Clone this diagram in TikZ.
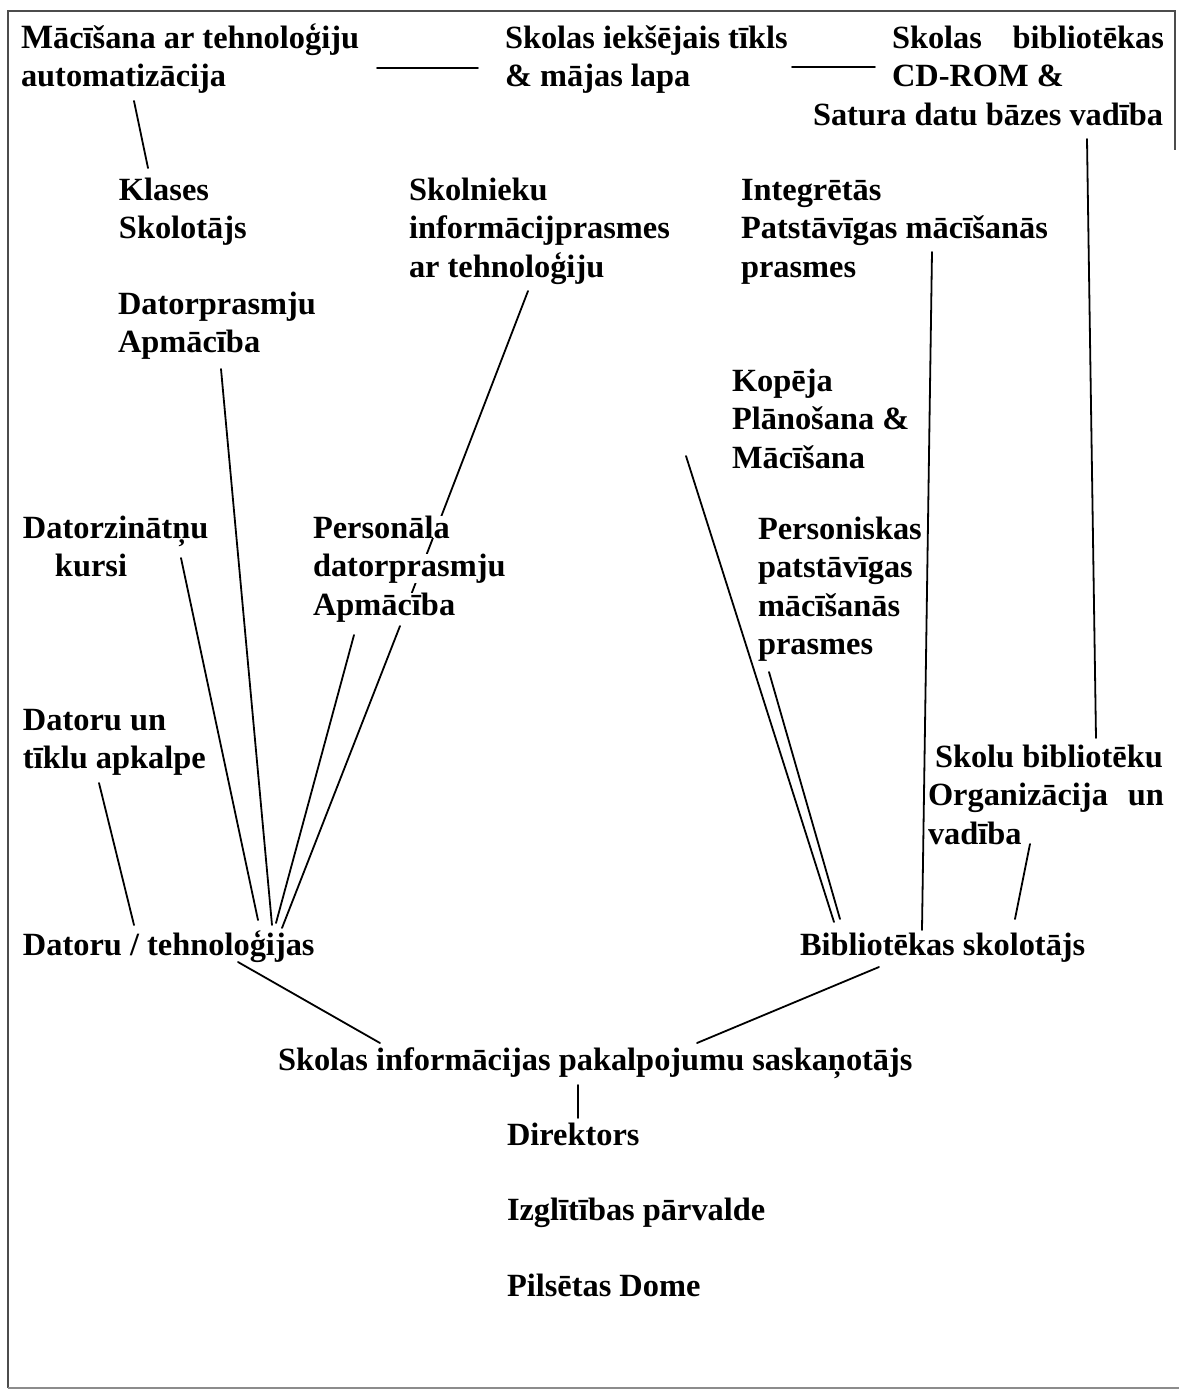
\documentclass[tikz,border=0pt]{standalone}
\usepackage{fontspec}
\setmainfont{Liberation Serif}
\usetikzlibrary{backgrounds}
\renewcommand\arraystretch{1}
\newcommand\wb[1]{{\setlength\fboxsep{0pt}\colorbox{white}{#1}}}
\begin{document}
\begin{tikzpicture}[x=0.5pt,y=-0.5pt,
  lbl/.style={anchor=base west, inner sep=0pt, outer sep=0pt,
    font=\bfseries\fontsize{16.2}{19.25}\selectfont},
  ln/.style={line width=0.9pt, black, line cap=round},
  frame/.style={line width=0.9pt, black!70}]
\useasboundingbox (0,0) rectangle (1179,1389);

% frame
\draw[frame] (8,1388) -- (8,11) -- (1175,11) -- (1175,150);
\draw[frame, black!45] (8,1388) -- (1179,1388);

% nodes
\node[lbl] (mac) at (21,48) {\begin{tabular}[t]{@{}l@{}}{\fontsize{17}{19.25}\selectfont M}ācīšana ar tehnoloģiju\\automatizācija\end{tabular}};
\node[lbl] (ikt) at (505,48) {\begin{tabular}[t]{@{}l@{}}Skolas iekšējais tīkls\\\& mājas lapa\end{tabular}};
\node[lbl] (cd) at (813,48) {\begin{tabular}[t]{@{}l@{}}\hspace{39.5pt}\makebox[136pt][s]{Skolas\hfill bibliotēkas}\\\hspace{39.5pt}CD-ROM \&\\Satura datu bāzes vadība\end{tabular}};
\node[lbl] (kl) at (119,200) {\begin{tabular}[t]{@{}l@{}}Klases\\Skolotājs\end{tabular}};
\node[lbl] (sk) at (409,200) {\begin{tabular}[t]{@{}l@{}}Skolnieku\\informācijprasmes\\ar tehnoloģiju\end{tabular}};
\node[lbl] (ip) at (741,200) {\begin{tabular}[t]{@{}l@{}}Integrētās\\Patstāvīgas mācīšanās\\prasmes\end{tabular}};
\node[lbl] (dpa) at (118,314) {\begin{tabular}[t]{@{}l@{}}Datorprasmju\\Apmācība\end{tabular}};
\node[lbl] (kop) at (732,391) {\begin{tabular}[t]{@{}l@{}}Kopēja\\Plānošana \&\\Mācīšana\end{tabular}};
\node[lbl] (dzk) at (23,538) {\begin{tabular}[t]{@{}l@{}}Datorzinātņu\\\hspace{16pt}kursi\end{tabular}};
\node[lbl] (pers) at (313,538) {\begin{tabular}[t]{@{}l@{}}\wb{Personāla}\\\wb{datorprasmju}\\\wb{Apmācība}\end{tabular}};
\node[lbl] (psp) at (758,539) {\begin{tabular}[t]{@{}l@{}}Personiskas\\patstāvīgas\\mācīšanās\\prasmes\end{tabular}};
\node[lbl] (dtk) at (23,730) {\begin{tabular}[t]{@{}l@{}}Datoru un\\tīklu apkalpe\end{tabular}};
\node[lbl] (sbo) at (928,767) {\begin{tabular}[t]{@{}l@{}}\hspace{3.5pt}Skolu bibliotēku\\\makebox[118pt][s]{Organizācija\hfill un}\\vadība\end{tabular}};
\node[lbl] (dt) at (23,955) {Datoru / tehnoloģijas};
\node[lbl] (bs) at (800,955) {Bibliotēkas skolotājs};
\node[lbl] (sips) at (278,1070) {Skolas informācijas pakalpojumu saskaņotājs};
\node[lbl] (dir) at (507,1145) {Direktors};
\node[lbl] (izp) at (507,1220) {Izglītības pārvalde};
\node[lbl] (pd) at (507,1296) {Pilsētas Dome};

% connector end points
\coordinate (mac-r) at (377,68);   \coordinate (ikt-l) at (478,68);
\coordinate (ikt-r) at (792,67);   \coordinate (cd-l) at (875,67);
\coordinate (mac-b) at (134,101);  \coordinate (kl-t) at (148,168);
\coordinate (cd-b) at (1087,139);  \coordinate (sbo-t) at (1096,738);
\coordinate (ip-b) at (932,252);   \coordinate (bs-t1) at (922,930);
\coordinate (kop-b) at (686,456);  \coordinate (bs-t2) at (834,922);
\coordinate (psp-b) at (769,672);  \coordinate (bs-t3) at (840,919);
\coordinate (sbo-b) at (1030,844); \coordinate (bs-t4) at (1015,919);
\coordinate (bs-b) at (879,967);   \coordinate (sips-r) at (697,1043);
\coordinate (dt-b) at (238,962);   \coordinate (sips-l) at (380,1043);
\coordinate (sips-b) at (578,1085); \coordinate (dir-t) at (578,1118);
\coordinate (dtk-b) at (99,783);   \coordinate (dt-t1) at (134,925);
\coordinate (dzk-b) at (181,558);  \coordinate (dt-t2) at (258,920);
\coordinate (dpa-b) at (221,369);  \coordinate (dt-t3) at (272,925);
\coordinate (pers-b1) at (354,635); \coordinate (dt-t4) at (276,923);
\coordinate (pers-b2) at (400,626); \coordinate (dt-t5) at (282,928);
\coordinate (sk-b) at (528,291);   \coordinate (pers-in) at (411,595);

\begin{scope}[on background layer]
\draw[ln] (mac-r) -- (ikt-l);
\draw[ln] (ikt-r) -- (cd-l);
\draw[ln] (mac-b) -- (kl-t);
\draw[ln] (cd-b) -- (sbo-t);
\draw[ln] (ip-b) -- (bs-t1);
\draw[ln] (kop-b) -- (bs-t2);
\draw[ln] (psp-b) -- (bs-t3);
\draw[ln] (sbo-b) -- (bs-t4);
\draw[ln] (bs-b) -- (sips-r);
\draw[ln] (dt-b) -- (sips-l);
\draw[ln] (sips-b) -- (dir-t);
\draw[ln] (dtk-b) -- (dt-t1);
\draw[ln] (dzk-b) -- (dt-t2);
\draw[ln] (dpa-b) -- (dt-t3);
\draw[ln] (pers-b1) -- (dt-t4);
\draw[ln] (pers-b2) -- (dt-t5);
\draw[ln] (sk-b) -- (pers-in);
\end{scope}
\end{tikzpicture}
\end{document}
